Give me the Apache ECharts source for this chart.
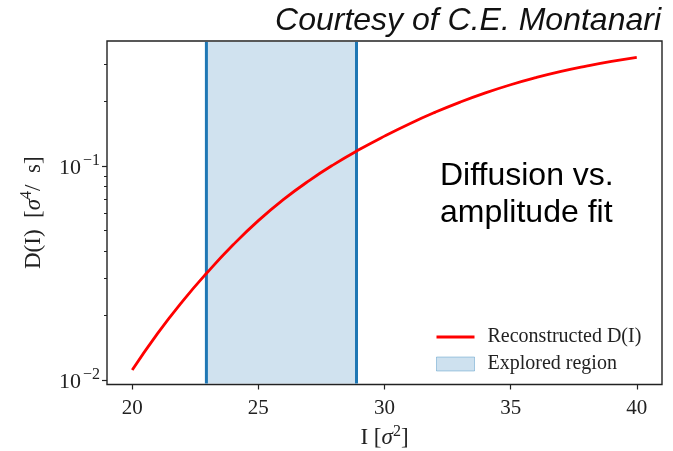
<!DOCTYPE html>
<html>
<head>
<meta charset="utf-8">
<script src="https://cdn.jsdelivr.net/npm/echarts@6/dist/echarts.min.js"></script>
<style>html,body{margin:0;padding:0;background:#fff}#c{width:673px;height:451px}</style>
</head>
<body>
<div id="c"></div>
<script>
// ---- data ----
const intensity = [20,21,22,23,24,25,26,27,28,29,30,31,32,33,34,35,36,37,38,39,40];
const diffusion = [0.01113,0.01647,0.02337,0.03204,0.04282,0.05555,0.06978,0.08524,0.1018,0.1193,0.1379,0.1577,0.1781,0.1989,0.2196,0.2397,0.2587,0.2766,0.2929,0.3082,0.3219];
const exploredRegion = [22.94, 28.89];
const xTicks = [20,25,30,35,40];
const yMajorTicks = [0.01, 0.1];
const yMinorTicks = [0.02,0.03,0.04,0.05,0.06,0.07,0.08,0.09,0.2,0.3];
const xMin = 19, xMax = 41;
const yMin = 0.00953, yMax = 0.3837;

const serif = 'Liberation Serif';
const sans = 'Liberation Sans';
const chart = echarts.init(document.getElementById('c'));
const supFmt = v => {
  const e = Math.round(Math.log10(v));
  return '{b|10}{s|' + (e < 0 ? '\u2212' : '') + Math.abs(e) + '}';
};
const nameRich = {
  t: {fontFamily: serif, fontSize: 23, color: '#222', lineHeight: 26, verticalAlign: 'bottom'},
  g: {fontFamily: serif, fontStyle: 'italic', fontSize: 23, color: '#222', lineHeight: 26, verticalAlign: 'bottom'},
  s: {fontFamily: serif, fontSize: 16, color: '#222', verticalAlign: 'top'}
};
chart.setOption({
  animation: false,
  title: [
    {text: 'Courtesy of C.E. Montanari', right: 12, top: 5, padding: 0,
     textStyle: {fontFamily: sans, fontStyle: 'italic', fontWeight: 'normal', fontSize: 32, color: '#111'}},
    {text: 'Diffusion vs.\namplitude fit', left: 440, top: 158, padding: 0,
     textStyle: {fontFamily: sans, fontWeight: 'normal', fontSize: 32, lineHeight: 37, color: '#000'}}
  ],
  grid: {left: 107, top: 41, width: 555, height: 343.5, show: true, borderColor: '#222', borderWidth: 1.4,
         backgroundColor: 'transparent', outerBoundsMode: 'none', containLabel: false},
  legend: {
    orient: 'vertical', left: 436, top: 327, padding: 0, itemGap: 7,
    itemWidth: 38, itemHeight: 14,
    textStyle: {fontFamily: serif, fontSize: 20, lineHeight: 20, color: '#222', padding: [0,0,0,8]},
    data: [
      {name: 'Reconstructed D(I)', icon: 'path://M0,0H40V3H0Z'},
      {name: 'Explored region', icon: 'rect', itemStyle: {color: 'rgba(31,119,180,0.22)', borderColor: 'rgba(31,119,180,0.35)', borderWidth: 1}}
    ]
  },
  xAxis: {
    type: 'value', min: xMin, max: xMax,
    axisLine: {show: false}, splitLine: {show: false},
    axisTick: {show: true, inside: false, length: 5, lineStyle: {color: '#222', width: 1.2}, customValues: xTicks},
    axisLabel: {customValues: xTicks, fontFamily: serif, fontSize: 21, color: '#222', margin: 13},
    name: '{t|I [}{g|\u03c3}{s|2}{t|]}', nameLocation: 'middle', nameGap: 39,
    nameTextStyle: {rich: nameRich}
  },
  yAxis: [{
    type: 'log', logBase: 10, min: yMin, max: yMax,
    axisLine: {show: false}, splitLine: {show: false}, minorTick: {show: false},
    axisTick: {show: true, inside: false, length: 5, lineStyle: {color: '#222', width: 1.2}, customValues: yMajorTicks},
    axisLabel: {customValues: yMajorTicks, margin: 7, formatter: supFmt,
      rich: {
        b: {fontFamily: serif, fontSize: 22, color: '#222', lineHeight: 26, verticalAlign: 'bottom', padding: [0,2,0,0]},
        s: {fontFamily: serif, fontSize: 16, color: '#222', verticalAlign: 'top'}
      }},
    name: '{t|D(I)  [}{g|\u03c3}{s|4}{t|/  s]}', nameLocation: 'middle', nameGap: 62,
    nameTextStyle: {rich: nameRich}
  }, {
    type: 'log', logBase: 10, min: yMin, max: yMax, position: 'left',
    axisLine: {show: false}, splitLine: {show: false}, axisLabel: {show: false},
    axisTick: {show: true, inside: false, length: 3, lineStyle: {color: '#222', width: 1}, customValues: yMinorTicks}
  }],
  series: [{
    type: 'custom', name: 'Explored region', z: 1, silent: true,
    itemStyle: {color: 'rgba(31,119,180,0.22)'},
    data: [exploredRegion], encode: {x: [0, 1]},
    renderItem: function (params, api) {
      const cs = params.coordSys;
      const xa = api.coord([api.value(0), 0.1])[0];
      const xb = api.coord([api.value(1), 0.1])[0];
      const top = cs.y + 1, bot = cs.y + cs.height - 1;
      return {type: 'group', children: [
        {type: 'rect', shape: {x: xa, y: top, width: xb - xa, height: bot - top}, style: {fill: 'rgba(31,119,180,0.21)'}},
        {type: 'line', shape: {x1: xa, y1: top, x2: xa, y2: bot}, style: {stroke: '#1f77b4', lineWidth: 3}},
        {type: 'line', shape: {x1: xb, y1: top, x2: xb, y2: bot}, style: {stroke: '#1f77b4', lineWidth: 3}}
      ]};
    }
  }, {
    type: 'line', name: 'Reconstructed D(I)', z: 3,
    data: intensity.map((x, i) => [x, diffusion[i]]),
    symbol: 'none', smooth: 0.5,
    lineStyle: {color: '#ff0000', width: 2.8}, itemStyle: {color: '#ff0000'}
  }]
});
</script>
</body>
</html>
